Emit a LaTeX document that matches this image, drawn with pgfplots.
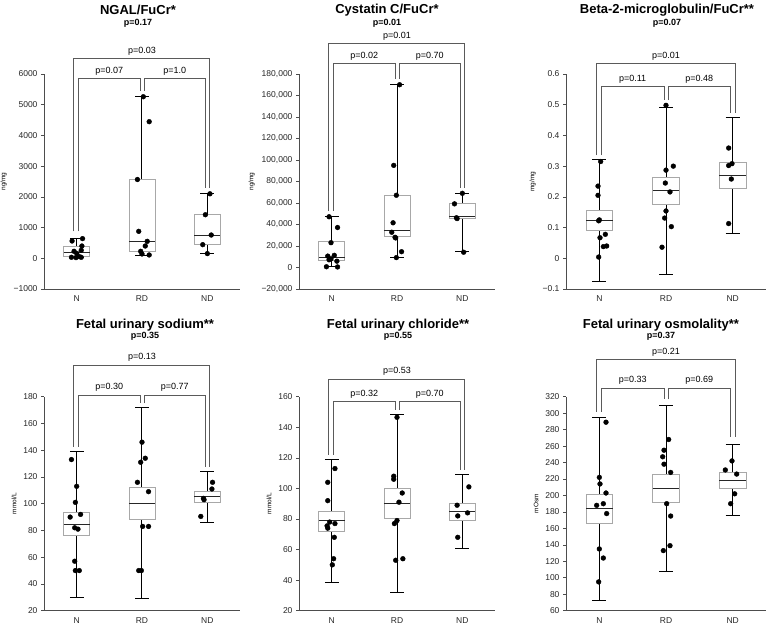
\documentclass[border=0pt]{standalone}
\usepackage{fontspec}
\setmainfont{Liberation Sans}
\usepackage{pgfplots}
\pgfplotsset{compat=1.18}
\usepgfplotslibrary{statistics}
\definecolor{axcol}{HTML}{4D4D4D}
\definecolor{boxcol}{HTML}{A8A8A8}
\definecolor{brcol}{HTML}{5A5A5A}
\pgfplotsset{
 panel/.style={
  scale only axis, height=214pt, xmin=0.5, xmax=3.5,
  axis x line=bottom, axis y line=left,
  axis line style={-, draw=axcol, line width=0.7pt},
  xtick={1,2,3}, xticklabels={N,RD,ND},
  xtick style={draw=none},
  ytick style={draw=axcol, line width=0.6pt},
  tick align=outside, major tick length=3pt,
  scaled y ticks=false,
  tick label style={font=\fontsize{8.5}{10}\selectfont, text=black!85},
  ylabel style={font=\fontsize{6.5}{8}\selectfont},
  clip=false,
  boxplot/draw direction=y,
  boxplot/box extend=0.4,
  boxplot/whisker extend=0.21,
  boxplot/every box/.style={draw=boxcol, fill=white, line width=0.8pt},
  boxplot/every whisker/.style={draw=black, line width=1pt},
  boxplot/every median/.style={draw=black!85, line width=1pt},
 },
 dots/.style={only marks, mark=*, mark size=2.4pt, black},
}
\tikzset{
 brk/.style={draw=brcol, line width=0.9pt},
 lbl/.style={font=\fontsize{9}{10}\selectfont, above, inner sep=0pt, yshift=3pt},
 ttl/.style={font=\fontsize{13}{15}\selectfont\bfseries},
 sub/.style={font=\fontsize{9}{10}\selectfont\bfseries},
}
% #1 outer y, #2 inner y, #3 leg N, #4 leg RD, #5 leg ND, #6 #7 #8 labels
\newcommand\brackets[8]{%
 \draw[brk] (axis cs:0.95,#3) |- (axis cs:3.04,#1) -- (axis cs:3.04,#5);
 \draw[brk] (axis cs:1.03,#3) |- (axis cs:1.97,#2) -- (axis cs:1.97,#4);
 \draw[brk] (axis cs:2.03,#4) |- (axis cs:2.97,#2) -- (axis cs:2.97,#5);
 \node[lbl] at (axis cs:2,#1) {#6};
 \node[lbl] at (axis cs:1.5,#2) {#7};
 \node[lbl] at (axis cs:2.5,#2) {#8};
}
\begin{document}
\begin{tikzpicture}
%================ Panel 1: NGAL
\begin{axis}[panel, width=196pt, at={(44pt,341pt)}, anchor=south west,
  height=215pt, ymin=-1000, ymax=6000,
  ytick={-1000,0,1000,2000,3000,4000,5000,6000},
  yticklabels={−1000,0,1000,2000,3000,4000,5000,6000},
  ylabel={ng/mg}]
\addplot[boxplot prepared={draw position=1, lower whisker=20, lower quartile=50, median=180, upper quartile=400, upper whisker=650}] coordinates {};
\addplot[boxplot prepared={draw position=2, lower whisker=100, lower quartile=210, median=540, upper quartile=2560, upper whisker=5260}] coordinates {};
\addplot[boxplot prepared={draw position=3, lower whisker=150, lower quartile=440, median=750, upper quartile=1420, upper whisker=2100}] coordinates {};
\addplot[dots] coordinates {
 (0.93,563) (1.09,640) (1.08,400) (1.07,260) (0.96,227) (1.0,162) (0.92,32) (0.99,22) (1.04,54) (1.07,32)
 (2.02,5260) (2.11,4448) (1.93,2565) (1.95,877) (2.08,552) (2.05,400) (1.98,227) (2.0,140) (2.11,108)
 (3.04,2100) (2.97,1418) (3.06,758) (2.93,444) (3.0,152)};
\brackets{6510}{5860}{880}{5440}{2300}{p=0.03}{p=0.07}{p=1.0}
\end{axis}
%================ Panel 2: Cystatin C
\begin{axis}[panel, width=196pt, at={(299pt,341pt)}, anchor=south west,
  height=215pt, ymin=-20000, ymax=180000,
  ytick={-20000,0,20000,40000,60000,80000,100000,120000,140000,160000,180000},
  yticklabels={{−20,000},{0},{20,000},{40,000},{60,000},{80,000},{100,000},{120,000},{140,000},{160,000},{180,000}},
  ylabel={ng/mg}]
\addplot[boxplot prepared={draw position=1, lower whisker=800, lower quartile=7000, median=9500, upper quartile=24000, upper whisker=47500}] coordinates {};
\addplot[boxplot prepared={draw position=2, lower whisker=9500, lower quartile=28500, median=34000, upper quartile=67500, upper whisker=170000}] coordinates {};
\addplot[boxplot prepared={draw position=3, lower whisker=14500, lower quartile=45500, median=47000, upper quartile=59500, upper whisker=69000}] coordinates {};
\addplot[dots] coordinates {
 (0.96,47200) (1.09,37200) (0.99,23100) (0.94,10600) (1.04,11300) (0.96,7200) (0.99,8100) (1.08,5900) (0.92,700) (1.09,500)
 (2.04,170000) (1.95,95000) (1.99,67200) (1.94,41600) (1.92,32800) (1.97,28100) (1.98,27500) (2.07,14700) (1.99,9200)
 (3.0,69000) (2.88,59200) (2.91,46300) (2.92,45500) (3.02,14200)};
\brackets{208000}{190000}{52500}{175500}{74000}{p=0.01}{p=0.02}{p=0.70}
\end{axis}
%================ Panel 3: Beta-2
\begin{axis}[panel, width=200pt, at={(566pt,341pt)}, anchor=south west,
  height=215pt, ymin=-0.1, ymax=0.6,
  ytick={-0.1,0,0.1,0.2,0.3,0.4,0.5,0.6},
  yticklabels={−0.1,0,0.1,0.2,0.3,0.4,0.5,0.6},
  ylabel={mg/mg}]
\addplot[boxplot prepared={draw position=1, lower whisker=-0.075, lower quartile=0.092, median=0.124, upper quartile=0.155, upper whisker=0.322}] coordinates {};
\addplot[boxplot prepared={draw position=2, lower whisker=-0.054, lower quartile=0.174, median=0.220, upper quartile=0.264, upper whisker=0.491}] coordinates {};
\addplot[boxplot prepared={draw position=3, lower whisker=0.080, lower quartile=0.226, median=0.270, upper quartile=0.311, upper whisker=0.458}] coordinates {};
\addplot[dots] coordinates {
 (1.02,0.315) (0.98,0.235) (0.98,0.205) (1.0,0.125) (0.99,0.122) (1.09,0.078) (1.01,0.067) (1.06,0.038) (1.11,0.040) (0.99,0.004)
 (2.0,0.498) (2.0,0.287) (2.11,0.300) (1.99,0.245) (2.06,0.216) (2.0,0.154) (1.98,0.131) (2.08,0.103) (1.94,0.036)
 (2.94,0.359) (2.94,0.302) (2.99,0.308) (2.98,0.258) (2.94,0.113)};
\brackets{0.634}{0.559}{0.336}{0.515}{0.474}{p=0.01}{p=0.11}{p=0.48}
\end{axis}
%================ Panel 4: sodium
\begin{axis}[panel, width=196pt, at={(44pt,19.3pt)}, anchor=south west,
  ymin=20, ymax=180,
  ytick={20,40,60,80,100,120,140,160,180},
  yticklabels={20,40,60,80,100,120,140,160,180},
  ylabel={mmol/L}]
\addplot[boxplot prepared={draw position=1, lower whisker=30.2, lower quartile=76.3, median=84.8, upper quartile=93.5, upper whisker=139.3}] coordinates {};
\addplot[boxplot prepared={draw position=2, lower whisker=29, lower quartile=88.2, median=100.2, upper quartile=111.9, upper whisker=172}] coordinates {};
\addplot[boxplot prepared={draw position=3, lower whisker=86.3, lower quartile=101.2, median=105.2, upper quartile=109.2, upper whisker=123.9}] coordinates {};
\addplot[dots] coordinates {
 (0.92,133) (1.0,113) (0.98,101) (0.9,90) (1.06,92) (0.97,82) (1.02,81) (0.97,57) (0.98,50) (1.04,50)
 (2.0,146) (1.98,131) (2.05,134) (1.93,116) (2.1,109) (2.01,83) (2.1,83) (1.95,50) (1.99,50)
 (3.08,116) (3.07,111) (2.94,104) (2.95,103) (2.9,90.5)};
\brackets{203.7}{181.3}{142.6}{175}{127.6}{p=0.13}{p=0.30}{p=0.77}
\end{axis}
%================ Panel 5: chloride
\begin{axis}[panel, width=196pt, at={(299pt,19.3pt)}, anchor=south west,
  ymin=20, ymax=160,
  ytick={20,40,60,80,100,120,140,160},
  yticklabels={20,40,60,80,100,120,140,160},
  ylabel={mmol/L}]
\addplot[boxplot prepared={draw position=1, lower whisker=38.3, lower quartile=72.1, median=78.7, upper quartile=85, upper whisker=118.6}] coordinates {};
\addplot[boxplot prepared={draw position=2, lower whisker=31.8, lower quartile=80.4, median=90.2, upper quartile=99.8, upper whisker=148.5}] coordinates {};
\addplot[boxplot prepared={draw position=3, lower whisker=60.8, lower quartile=79.1, median=85, upper quartile=90, upper whisker=109}] coordinates {};
\addplot[dots] coordinates {
 (1.05,113) (0.94,104) (0.94,92) (0.97,78) (1.05,77) (0.93,75.5) (0.94,74) (1.04,68) (1.03,54) (1.01,50)
 (2.0,146.5) (1.95,108) (1.95,106) (2.08,97) (2.03,91) (2.0,79) (1.96,77) (2.09,54) (1.98,53)
 (3.1,101) (2.92,89) (2.93,82) (3.08,84) (2.93,68)};
\brackets{171.6}{156.7}{122}{151.3}{112}{p=0.53}{p=0.32}{p=0.70}
\end{axis}
%================ Panel 6: osmolality
\begin{axis}[panel, width=200pt, at={(566pt,19.3pt)}, anchor=south west,
  ymin=60, ymax=320,
  ytick={60,80,100,120,140,160,180,200,220,240,260,280,300,320},
  yticklabels={60,80,100,120,140,160,180,200,220,240,260,280,300,320},
  ylabel={mOsm}]
\addplot[boxplot prepared={draw position=1, lower whisker=73, lower quartile=166.5, median=184.3, upper quartile=200.9, upper whisker=295.2}] coordinates {};
\addplot[boxplot prepared={draw position=2, lower whisker=107.4, lower quartile=192, median=208.6, upper quartile=225.6, upper whisker=309.8}] coordinates {};
\addplot[boxplot prepared={draw position=3, lower whisker=175.4, lower quartile=209, median=218.3, upper quartile=228, upper whisker=261.6}] coordinates {};
\addplot[dots] coordinates {
 (1.1,289) (1.0,222) (1.01,214) (1.1,203) (0.96,188) (1.06,190) (1.11,178) (1.0,135) (1.06,124) (0.99,95)
 (2.04,268) (1.97,255) (1.95,247) (1.97,238) (2.07,228) (2.01,190) (2.07,175) (1.96,133) (2.06,139)
 (2.99,242) (2.89,231) (3.06,226) (3.03,202) (2.97,190)};
\brackets{365}{330.5}{301.7}{316.7}{271.3}{p=0.21}{p=0.33}{p=0.69}
\end{axis}
%================ Titles
\node[ttl] at (138pt,620pt) {NGAL/FuCr*};
\node[sub] at (138pt,606.5pt) {p=0.17};
\node[ttl] at (387pt,620pt) {Cystatin C/FuCr*};
\node[sub] at (387pt,606.5pt) {p=0.01};
\node[ttl] at (667pt,620pt) {Beta-2-microglobulin/FuCr**};
\node[sub] at (667pt,606.5pt) {p=0.07};
\node[ttl] at (145pt,304.5pt) {Fetal urinary sodium**};
\node[sub] at (145pt,293.5pt) {p=0.35};
\node[ttl] at (398pt,304.5pt) {Fetal urinary chloride**};
\node[sub] at (398pt,293.5pt) {p=0.55};
\node[ttl] at (661pt,304.5pt) {Fetal urinary osmolality**};
\node[sub] at (661pt,293.5pt) {p=0.37};
\pgfresetboundingbox
\useasboundingbox (0,0) rectangle (771pt,630pt);
\end{tikzpicture}
\end{document}
